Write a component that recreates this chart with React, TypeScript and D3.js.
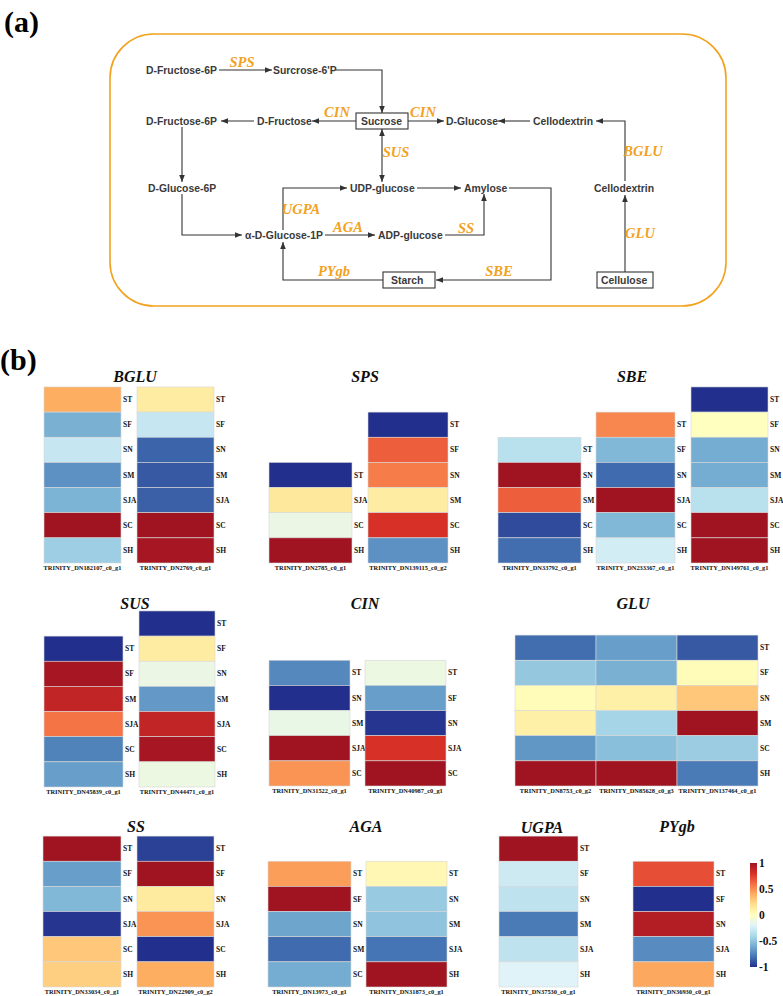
import React from "react";
import * as d3 from "d3";

// ---------------- DATA ----------------
const bgluGenes = ["TRINITY_DN182107_c0_g1", "TRINITY_DN2769_c0_g1"];
const bgluRows = [["ST", "SF", "SN", "SM", "SJA", "SC", "SH"], ["ST", "SF", "SN", "SM", "SJA", "SC", "SH"]];
const bgluValues = [[0.4, -0.58, -0.3, -0.7, -0.57, 1, -0.45], [0.12, -0.3, -0.85, -0.88, -0.86, 1, 0.98]];

const spsGenes = ["TRINITY_DN2785_c0_g1", "TRINITY_DN139115_c0_g2"];
const spsRows = [["ST", "SJA", "SC", "SH"], ["ST", "SF", "SN", "SM", "SC", "SH"]];
const spsValues = [[-1, 0.15, -0.13, 1], [-1, 0.65, 0.55, 0.12, 0.8, -0.7]];

const sbeGenes = ["TRINITY_DN33792_c0_g1", "TRINITY_DN233367_c0_g1", "TRINITY_DN149761_c0_g1"];
const sbeRows = [["ST", "SN", "SM", "SC", "SH"], ["ST", "SF", "SN", "SJA", "SC", "SH"], ["ST", "SF", "SN", "SM", "SJA", "SC", "SH"]];
const sbeValues = [[-0.35, 1, 0.65, -0.92, -0.82], [0.52, -0.55, -0.83, 1, -0.55, -0.25], [-1, 0.0, -0.6, -0.6, -0.35, 1, 1]];

const susGenes = ["TRINITY_DN45839_c0_g1", "TRINITY_DN44471_c0_g1"];
const susRows = [["ST", "SF", "SM", "SJA", "SC", "SH"], ["ST", "SF", "SN", "SM", "SJA", "SC", "SH"]];
const susValues = [[-1, 0.98, 0.88, 0.58, -0.75, -0.65], [-1, 0.12, -0.13, -0.67, 0.88, 0.98, -0.12]];

const cinGenes = ["TRINITY_DN31522_c0_g1", "TRINITY_DN40987_c0_g1"];
const cinRows = [["ST", "SN", "SM", "SJA", "SC"], ["ST", "SF", "SN", "SJA", "SC"]];
const cinValues = [[-0.73, -1, -0.14, 1, 0.48], [-0.12, -0.65, -0.98, 0.8, 1]];

const gluGenes = ["TRINITY_DN8753_c0_g2", "TRINITY_DN85628_c0_g3", "TRINITY_DN137464_c0_g1"];
const gluRows = [["ST", "SF", "SN", "SM", "SC", "SH"], ["ST", "SF", "SN", "SM", "SC", "SH"], ["ST", "SF", "SN", "SM", "SC", "SH"]];
const gluValues = [[-0.82, -0.48, 0.02, 0.1, -0.68, 1], [-0.65, -0.58, 0.1, -0.42, -0.52, 1], [-0.88, 0.02, 0.3, 1, -0.46, -0.78]];

const ssGenes = ["TRINITY_DN33034_c0_g1", "TRINITY_DN22909_c0_g2"];
const ssRows = [["ST", "SF", "SN", "SJA", "SC", "SH"], ["ST", "SF", "SN", "SJA", "SC", "SH"]];
const ssValues = [[1, -0.65, -0.55, -0.98, 0.3, 0.27], [-0.95, 1, 0.13, 0.48, -1, 0.4]];

const agaGenes = ["TRINITY_DN13973_c0_g1", "TRINITY_DN31873_c0_g1"];
const agaRows = [["ST", "SF", "SN", "SM", "SC"], ["ST", "SN", "SM", "SJA", "SH"]];
const agaValues = [[0.45, 1, -0.63, -0.83, -0.6], [0.05, -0.47, -0.5, -0.8, 1]];

const ugpaGenes = ["TRINITY_DN37530_c0_g1"];
const ugpaRows = [["ST", "SF", "SN", "SM", "SJA", "SH"]];
const ugpaValues = [[1, -0.27, -0.33, -0.78, -0.33, -0.2]];

const pygbGenes = ["TRINITY_DN36930_c0_g1"];
const pygbRows = [["ST", "SF", "SN", "SJA", "SH"]];
const pygbValues = [[0.7, -1, 0.93, -0.72, 0.42]];

const colorStops = [-1, -0.8, -0.6, -0.4, -0.2, 0, 0.2, 0.4, 0.6, 0.8, 1];
const colorRange = ["#222F8C", "#4575B4", "#74ADD1", "#ABD9E9", "#E0F3F8", "#FFFFBF", "#FEE090", "#FDAE61", "#F46D43", "#D73027", "#A01422"];
const legendTicks = [1, 0.5, 0, -0.5, -1];

// ---------------- LAYOUT ----------------
const ROW_H = 25.15;
const panels = [
  { title: "BGLU", genes: bgluGenes, rows: bgluRows, values: bgluValues, titleX: 135, titleY: 382, bottom: 563, cols: [[44, 77], [137, 77]], lastOnly: false },
  { title: "SPS", genes: spsGenes, rows: spsRows, values: spsValues, titleX: 365, titleY: 382, bottom: 563, cols: [[269, 83], [368, 80]], lastOnly: false },
  { title: "SBE", genes: sbeGenes, rows: sbeRows, values: sbeValues, titleX: 632, titleY: 382, bottom: 563, cols: [[498, 83], [596, 79], [691, 77]], lastOnly: false },
  { title: "SUS", genes: susGenes, rows: susRows, values: susValues, titleX: 135, titleY: 609, bottom: 787, cols: [[44, 79], [139, 76]], lastOnly: false },
  { title: "CIN", genes: cinGenes, rows: cinRows, values: cinValues, titleX: 365, titleY: 609, bottom: 786, cols: [[269, 81], [365, 81]], lastOnly: false },
  { title: "GLU", genes: gluGenes, rows: gluRows, values: gluValues, titleX: 633, titleY: 609, bottom: 786, cols: [[515, 81], [596, 81], [677, 81]], lastOnly: true },
  { title: "SS", genes: ssGenes, rows: ssRows, values: ssValues, titleX: 136, titleY: 832, bottom: 987, cols: [[43, 78], [137, 77]], lastOnly: false },
  { title: "AGA", genes: agaGenes, rows: agaRows, values: agaValues, titleX: 366, titleY: 832, bottom: 987, cols: [[268, 83], [366, 81]], lastOnly: false },
  { title: "UGPA", genes: ugpaGenes, rows: ugpaRows, values: ugpaValues, titleX: 542, titleY: 833, bottom: 987, cols: [[499, 79]], lastOnly: false },
  { title: "PYgb", genes: pygbGenes, rows: pygbRows, values: pygbValues, titleX: 677, titleY: 832, bottom: 987, cols: [[633, 81]], lastOnly: false },
];

const color = d3.scaleLinear<string>().domain(colorStops).range(colorRange).interpolate(d3.interpolateRgb);

const ORANGE = "#F2A21E";
const INK = "#333333";
const SERIF = "'Liberation Serif', 'Times New Roman', serif";
const SANS = "'Liberation Sans', Arial, sans-serif";

// pathway nodes: [label, left x, center y]
const nodes: [string, number, number][] = [
  ["D-Fructose-6P", 146, 70],
  ["Surcrose-6'P", 273, 70],
  ["D-Fructose-6P", 146, 121],
  ["D-Fructose", 257, 121],
  ["Sucrose", 361, 121],
  ["D-Glucose", 446, 121],
  ["Cellodextrin", 533, 121],
  ["D-Glucose-6P", 148, 188],
  ["UDP-glucose", 350, 188],
  ["Amylose", 464, 188],
  ["Cellodextrin", 594, 188],
  ["α-D-Glucose-1P", 245, 235],
  ["ADP-glucose", 378, 235],
  ["Starch", 391, 280],
  ["Cellulose", 601, 280],
];
const boxes: [number, number, number, number][] = [
  [356, 113, 52, 16],
  [383, 272, 52, 16],
  [597, 272, 56, 16],
];
const edges: { pts: [number, number][]; both?: boolean }[] = [
  { pts: [[219, 70], [272, 70]] },
  { pts: [[336, 70], [382, 70], [382, 113]] },
  { pts: [[356, 121], [312, 121]] },
  { pts: [[254, 121], [221, 121]] },
  { pts: [[408, 121], [444, 121]] },
  { pts: [[530, 121], [498, 121]] },
  { pts: [[625, 181], [625, 121], [596, 121]] },
  { pts: [[382, 129], [382, 182]], both: true },
  { pts: [[182, 127], [182, 182]] },
  { pts: [[182, 194], [182, 235], [242, 235]] },
  { pts: [[283, 230], [283, 188], [347, 188]] },
  { pts: [[417, 188], [461, 188]] },
  { pts: [[509, 188], [551, 188], [551, 280], [436, 280]] },
  { pts: [[325, 235], [375, 235]] },
  { pts: [[445, 235], [484, 235], [484, 194]] },
  { pts: [[383, 280], [283, 280], [283, 242]] },
  { pts: [[625, 272], [625, 195]] },
];
const enzymes: [string, number, number][] = [
  ["SPS", 242, 67], ["CIN", 337, 117], ["CIN", 423, 117], ["SUS", 396, 157],
  ["BGLU", 643, 156], ["UGPA", 301, 214], ["AGA", 348, 232], ["SS", 466, 233],
  ["GLU", 640, 238], ["PYgb", 334, 276], ["SBE", 499, 276],
];

function Heatmap({ p }: { p: (typeof panels)[number] }) {
  return (
    <g>
      <text x={p.titleX} y={p.titleY} textAnchor="middle" fontFamily={SERIF} fontWeight="bold" fontStyle="italic" fontSize={16} fill="#111">
        {p.title}
      </text>
      {p.genes.map((g, gi) => {
        const rows = p.rows[gi];
        const [cx, cw] = p.cols[gi];
        const y = d3.scaleBand().domain(rows).range([p.bottom - rows.length * ROW_H, p.bottom]);
        const showRows = !p.lastOnly || gi === p.genes.length - 1;
        return (
          <g key={gi}>
            {rows.map((r, ri) => (
              <rect key={r} x={cx} y={y(r)} width={cw} height={y.bandwidth()} fill={color(p.values[gi][ri])} stroke="#d8d8d8" strokeWidth={0.6} />
            ))}
            {showRows &&
              rows.map((r) => (
                <text key={"l" + r} x={cx + cw + 2} y={(y(r) as number) + y.bandwidth() / 2 + 2.6} fontFamily={SERIF} fontWeight="bold" fontSize={7.5} fill="#111">
                  {r}
                </text>
              ))}
            <text x={cx + cw / 2} y={p.bottom + 6.5} textAnchor="middle" fontFamily={SERIF} fontWeight="bold" fontSize={6.4} fill="#111">
              {g}
            </text>
          </g>
        );
      })}
    </g>
  );
}

function Legend() {
  const y = d3.scaleLinear().domain([1, -1]).range([863, 967]);
  const gradStops = d3.range(0, 1.0001, 0.05);
  return (
    <g>
      <defs>
        <linearGradient id="cbar" x1="0" y1="1" x2="0" y2="0">
          {gradStops.map((t) => (
            <stop key={t} offset={t} stopColor={color(-1 + 2 * t)} />
          ))}
        </linearGradient>
      </defs>
      <rect x={750} y={y(1)} width={7} height={y(-1) - y(1)} fill="url(#cbar)" />
      {legendTicks.map((t) => (
        <text key={t} x={759} y={y(t) + 4} fontFamily={SERIF} fontWeight="bold" fontSize={11.5} fill="#111">
          {t}
        </text>
      ))}
    </g>
  );
}

export default function App() {
  const line = d3.line();
  return (
    <svg width={783} height={996} style={{ position: "absolute", left: 0, top: 0, background: "#fff" }} xmlns="http://www.w3.org/2000/svg">
      <defs>
        <marker id="arr" viewBox="0 0 10 10" refX={10} refY={5} markerWidth={7} markerHeight={7} markerUnits="userSpaceOnUse" orient="auto-start-reverse">
          <path d="M0,1 L10,5 L0,9 z" fill={INK} />
        </marker>
      </defs>
      <rect width={783} height={996} fill="#fff" />
      <text x={4} y={32} fontFamily={SERIF} fontWeight="bold" fontSize={30} fill="#000">(a)</text>
      <rect x={110} y={34} width={616} height={272} rx={44} ry={44} fill="none" stroke={ORANGE} strokeWidth={1.6} />
      {edges.map((e, i) => (
        <path key={i} d={line(e.pts) as string} fill="none" stroke={INK} strokeWidth={1.1} markerEnd="url(#arr)" markerStart={e.both ? "url(#arr)" : undefined} />
      ))}
      {boxes.map((b, i) => (
        <rect key={i} x={b[0]} y={b[1]} width={b[2]} height={b[3]} fill="#fff" stroke={INK} strokeWidth={1.1} />
      ))}
      {nodes.map(([t, x, y], i) => (
        <text key={i} x={x} y={y + 4} fontFamily={SANS} fontWeight="bold" fontSize={10.4} fill="#3a3a3a">
          {t}
        </text>
      ))}
      {enzymes.map(([t, x, y], i) => (
        <text key={i} x={x} y={y} textAnchor="middle" fontFamily={SERIF} fontWeight="bold" fontStyle="italic" fontSize={14.5} fill={ORANGE}>
          {t}
        </text>
      ))}
      <text x={0} y={370} fontFamily={SERIF} fontWeight="bold" fontSize={30} fill="#000">(b)</text>
      {panels.map((p) => (
        <Heatmap key={p.title} p={p} />
      ))}
      <Legend />
    </svg>
  );
}
